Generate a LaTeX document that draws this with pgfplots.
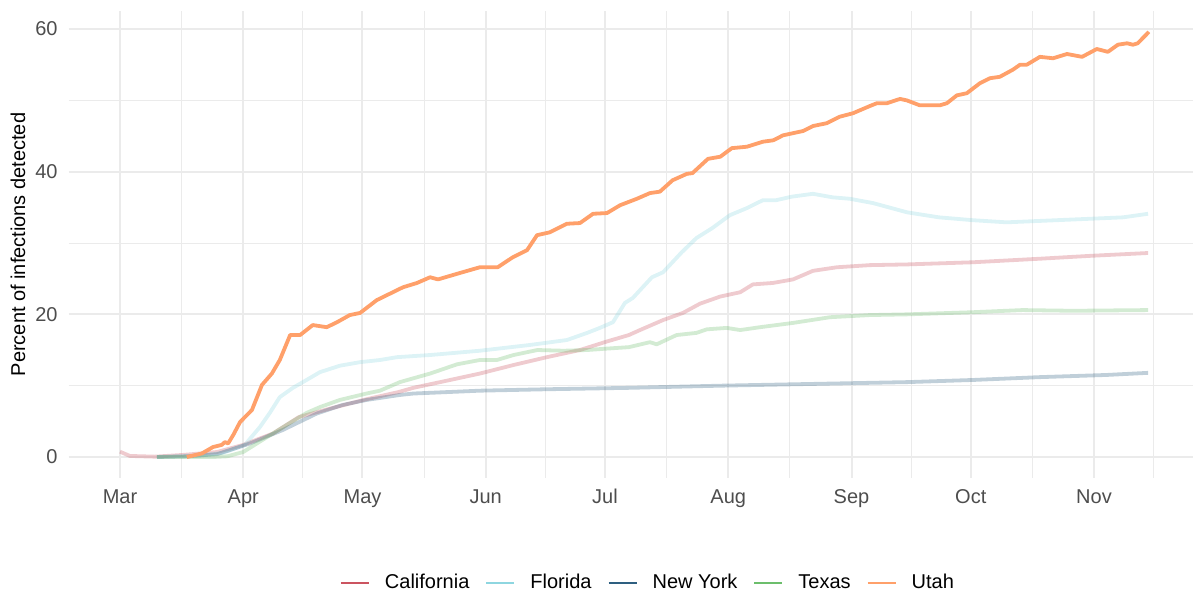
\documentclass[border=0pt]{standalone}
\usepackage{fontspec}
\setmainfont{Liberation Sans}
\usepackage{pgfplots}
\pgfplotsset{compat=1.18}
\definecolor{cCA}{HTML}{CB5460}
\definecolor{cFL}{HTML}{8ED6E0}
\definecolor{cNY}{HTML}{2E5F80}
\definecolor{cTX}{HTML}{6CBE6C}
\definecolor{cUT}{HTML}{FFA06A}
\definecolor{gridc}{HTML}{EBEBEB}
\definecolor{tickc}{HTML}{4D4D4D}

\pgfplotstableread{
x y
0 0.75
2.5 0.15
8.8 0.05
16 0.3
24.4 0.7
31 1.7
38.5 3.3
45 5.6
53.6 6.9
62 8.1
70 9.1
73.8 9.7
82.2 10.7
90.5 11.7
99 12.9
107.4 14.0
115.7 15.0
122.5 16.2
128 17.1
130.8 17.8
136.6 19.2
141.6 20.2
145.9 21.5
151 22.5
156 23.1
159.2 24.2
164.2 24.4
169.3 24.9
174.3 26.1
180.3 26.6
188.6 26.9
198 27.0
214.5 27.3
231.4 27.8
244 28.2
258.6 28.6
}\tCA

\pgfplotstableread{
x y
9.3 0
20 0.2
26 0.6
31.4 1.7
35.2 4.2
37.7 6.2
40.2 8.4
43.5 9.7
46 10.5
50.3 11.9
55.3 12.8
60.4 13.3
65.4 13.6
69.7 14.0
78 14.3
90.5 14.9
103 15.7
112.4 16.4
117.5 17.4
120.7 18.1
124 18.9
127 21.6
129 22.3
133.8 25.2
136.6 25.9
141.3 28.7
145 30.7
149 32.1
153.4 33.9
157.7 34.9
161.7 36.0
165 36.0
169 36.5
174.3 36.9
179.3 36.4
183.6 36.2
189.4 35.6
198 34.3
206 33.6
214.5 33.2
223 32.9
231.4 33.1
244 33.4
252.3 33.6
258.6 34.1
}\tFL

\pgfplotstableread{
x y
9.3 0
17 0.1
24.4 0.4
32.7 1.9
41 3.8
49.5 6.1
56 7.3
62 8.0
70.4 8.7
73.8 8.9
82.2 9.1
90.5 9.3
107.4 9.5
128.3 9.7
151 10.0
188.6 10.4
198 10.5
214.5 10.8
231.4 11.2
248 11.5
258.6 11.8
}\tNY

\pgfplotstableread{
x y
9.3 0
23.4 0
27 0.1
31 0.7
37 2.8
42.8 4.8
47 6.2
50.3 7.0
55.3 8.0
62 8.9
65.4 9.3
70.4 10.5
78 11.7
84.8 13.0
90.5 13.6
94.8 13.6
99 14.3
105 15.0
111.5 14.9
117.5 15.0
122.5 15.2
128 15.4
133.3 16.1
135 15.8
140 17.1
145 17.4
147.6 17.9
152.6 18.1
156 17.8
161 18.2
169.3 18.8
178.6 19.6
188.6 19.9
198 20.0
214.5 20.3
227 20.6
239.7 20.5
258.6 20.6
}\tTX

\pgfplotstableread{
x y
16.8 0
20.6 0.5
23.4 1.4
25.6 1.7
26.4 2.1
27.2 1.9
28.5 3.1
30.2 4.9
33.2 6.6
35.7 10.1
38.2 11.7
40.2 13.6
42.8 17.1
45.3 17.1
48.5 18.5
52 18.2
54.6 18.9
57.8 19.9
60.4 20.2
64.6 22.0
71.2 23.8
74.7 24.4
78 25.2
80 24.9
85.5 25.8
90.5 26.6
95 26.6
98.8 28.0
102.4 29.0
104.9 31.1
108.1 31.5
112.4 32.7
115.7 32.8
119 34.1
122.5 34.2
125.8 35.3
130 36.2
133.3 37.0
135.8 37.2
139 38.8
142.6 39.7
144 39.8
147.9 41.8
151 42.1
153.9 43.3
157.7 43.5
161.7 44.2
164.3 44.4
166.8 45.1
171.8 45.7
174.3 46.4
177.8 46.8
181 47.7
184.4 48.2
188.6 49.2
190.4 49.6
192.9 49.6
196.2 50.2
197.9 50.0
201.2 49.3
206.2 49.3
208 49.6
210.5 50.7
213 51.0
216.3 52.4
218.8 53.1
221.3 53.3
224.6 54.3
226.4 55.0
228.1 55.0
231.4 56.1
234.7 55.9
238.2 56.5
242 56.1
245.7 57.2
248.5 56.8
251 57.8
253.3 58.0
254.8 57.8
256 58.0
258.8 59.6
}\tUT

\begin{document}
\begin{tikzpicture}
\begin{axis}[
  at={(0,0)}, anchor=south west,
  scale only axis, width=562.25pt, height=233.5pt,
  xmin=-12.95, xmax=269.9, ymin=-2.94, ymax=62.53,
  xtick={0,31,61,92,122,153,184,214,245},
  xticklabels={Mar,Apr,May,Jun,Jul,Aug,Sep,Oct,Nov},
  minor xtick={15.5,46,76.5,107,137.5,168.5,199,229.5,260},
  ytick={0,20,40,60}, minor ytick={10,30,50},
  grid=both,
  major grid style={draw=gridc, line width=1pt},
  minor grid style={draw=gridc, line width=0.5pt},
  axis line style={draw=none},
  major tick length=0pt, minor tick length=0pt,
  tick style={draw=none},
  tick label style={font=\fontsize{10}{12}\selectfont, text=tickc, inner sep=0pt},
  xticklabel style={anchor=north, yshift=-5.5pt},
  yticklabel style={anchor=east, xshift=-5.25pt},
  /pgf/number format/assume math mode=true,
  ylabel={Percent of infections detected},
  every axis y label/.style={at={([xshift=-25.25pt]rel axis cs:0,0.5)}, rotate=90, anchor=center, font=\fontsize{10}{12}\selectfont, inner sep=0pt},
  legend columns=-1,
  legend style={at={(0.5144,-0.2248)}, anchor=center, draw=none, fill=none,
    font=\fontsize{10}{12}\selectfont, inner sep=0pt, outer sep=0pt,
    nodes={inner sep=0pt},
    /tikz/every odd column/.append style={column sep=7.5pt},
    /tikz/every even column/.append style={column sep=8pt}},
  legend image code/.code={\draw[#1] (0pt,0pt) -- (14pt,0pt);},
  line join=round,
]
\addplot[forget plot, no markers, cCA, line width=1.9pt, opacity=0.3] table {\tCA};
\addplot[forget plot, no markers, cFL, line width=1.9pt, opacity=0.3] table {\tFL};
\addplot[forget plot, no markers, cNY, line width=1.9pt, opacity=0.3] table {\tNY};
\addplot[forget plot, no markers, cTX, line width=1.9pt, opacity=0.3] table {\tTX};
\addplot[forget plot, no markers, cUT, line width=1.9pt] table {\tUT};
\addlegendimage{cCA, line width=1pt}
\addlegendentry{California}
\addlegendimage{cFL, line width=1pt}
\addlegendentry{Florida}
\addlegendimage{cNY, line width=1pt}
\addlegendentry{New York}
\addlegendimage{cTX, line width=1pt}
\addlegendentry{Texas}
\addlegendimage{cUT, line width=1pt}
\addlegendentry{Utah}
\end{axis}
\pgfresetboundingbox
\path[use as bounding box] (-34.25pt,-59.5pt) rectangle (562.25pt,239pt);
\end{tikzpicture}
\end{document}
